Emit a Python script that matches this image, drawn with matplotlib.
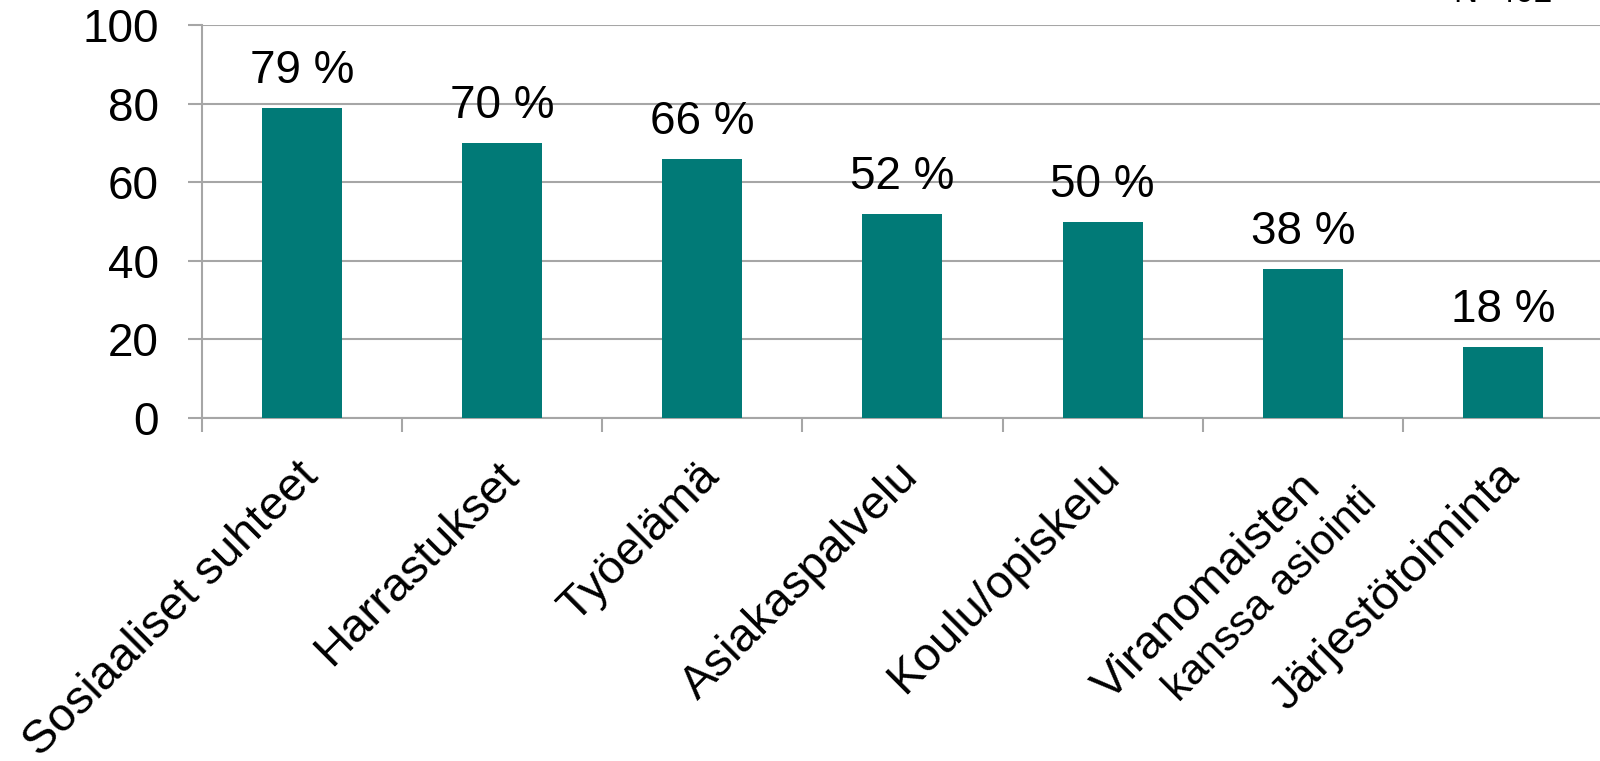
import numpy as np
import matplotlib.pyplot as plt
from matplotlib.ticker import FixedLocator
from matplotlib.transforms import ScaledTranslation

plt.rcParams['font.family'] = ['Liberation Sans', 'DejaVu Sans']

# Kyselyn tulokset
categories = ["Sosiaaliset suhteet", "Harrastukset", "Työelämä", "Asiakaspalvelu",
              "Koulu/opiskelu", "Viranomaisten\nkanssa asiointi", "Järjestötoiminta"]
values = [79, 70, 66, 52, 50, 38, 18]
n_text = "N=402"

bar_color = "#017a77"
grid_color = "#a6a6a6"

fig = plt.figure(figsize=(16, 7.61), dpi=100)
ax = fig.add_axes([0.126, 0.4507, 0.876, 0.5163])

x = np.arange(len(categories))
ax.bar(x, values, width=0.4, color=bar_color, zorder=3)

for xi, v in zip(x, values):
    ax.annotate(f"{v} %", (xi, v), xytext=(0, 18), textcoords="offset points",
                ha="center", va="baseline", fontsize=33)

ax.set_xlim(-0.5, len(categories) - 0.5)
ax.set_ylim(0, 100)
ax.set_yticks([0, 20, 40, 60, 80, 100])
ax.tick_params(axis="y", labelsize=33, length=10, width=1.5, color=grid_color, pad=21)

ax.set_xticks(x)
ax.set_xticklabels([c if "\n" not in c else "" for c in categories],
                   rotation=45, ha="right", rotation_mode="anchor", fontsize=34)
ax.tick_params(axis="x", which="major", length=0, pad=26)
shift = ScaledTranslation(-6 / 100, 0, fig.dpi_scale_trans)
for lab in ax.get_xticklabels():
    lab.set_transform(lab.get_transform() + shift)
ax.xaxis.set_minor_locator(FixedLocator(np.arange(-0.5, len(categories), 1.0)))
ax.tick_params(axis="x", which="minor", length=10, width=1.5, color=grid_color)

# kaksirivinen nimi, toinen rivi pienemmällä
i = categories.index("Viranomaisten\nkanssa asiointi")
first, second = categories[i].split("\n")
ax.annotate(first, (i, 0), xytext=(-3, -34), textcoords="offset points",
            rotation=45, ha="right", va="top", rotation_mode="anchor",
            fontsize=34, annotation_clip=False)
ax.annotate(second, (i, 0), xytext=(39, -46), textcoords="offset points",
            rotation=45, ha="right", va="top", rotation_mode="anchor",
            fontsize=31, annotation_clip=False)

ax.yaxis.grid(True, color=grid_color, linewidth=1.5, zorder=0)
for s in ["top", "right"]:
    ax.spines[s].set_visible(False)
ax.spines["left"].set_color(grid_color)
ax.spines["left"].set_linewidth(1.5)
ax.spines["bottom"].set_color(grid_color)
ax.spines["bottom"].set_linewidth(1.5)

fig.text(0.97, 0.9974, n_text, ha="right", va="baseline", fontsize=24)

fig.savefig("out.png", dpi=100)
